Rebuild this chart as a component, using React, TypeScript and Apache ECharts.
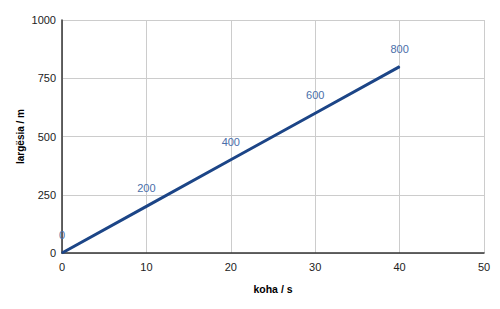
import React, { useEffect, useRef } from "react";
import * as echarts from "echarts";

const times = [0, 10, 20, 30, 40];
const distances = [0, 200, 400, 600, 800];
const xAxisTitle = "koha / s";
const yAxisTitle = "largësia / m";

export default function App() {
  const ref = useRef<HTMLDivElement>(null);
  useEffect(() => {
    if (!ref.current) return;
    const chart = echarts.init(ref.current, null, { renderer: "svg" });
    const font = "Liberation Sans, Arial, sans-serif";
    chart.setOption({
      animation: false,
      textStyle: { fontFamily: font },
      grid: { left: 54, right: 8, top: 12, bottom: 48, containLabel: false, outerBoundsMode: "none" },
      xAxis: {
        type: "value",
        min: 0,
        max: 50,
        interval: 10,
        name: xAxisTitle,
        nameLocation: "middle",
        nameGap: 30,
        nameTextStyle: { fontFamily: font, fontSize: 10.5, fontWeight: "bold", color: "#000" },
        axisLine: { show: true, onZero: false, lineStyle: { color: "#333", width: 1.5 } },
        axisTick: { show: false },
        axisLabel: { fontFamily: font, fontSize: 11, color: "#222", margin: 8 },
        splitLine: { show: true, lineStyle: { color: "#ccc", width: 1 } },
      },
      yAxis: {
        type: "value",
        min: 0,
        max: 1000,
        interval: 250,
        name: yAxisTitle,
        nameLocation: "middle",
        nameGap: 37,
        nameMoveOverlap: false,
        nameTextStyle: { fontFamily: font, fontSize: 10, fontWeight: "bold", color: "#000" },
        axisLine: { show: true, onZero: false, lineStyle: { color: "#333", width: 1.5 } },
        axisTick: { show: false },
        axisLabel: { fontFamily: font, fontSize: 11, color: "#222", margin: 6, formatter: (v: number) => String(v) },
        splitLine: { show: true, lineStyle: { color: "#ccc", width: 1 } },
      },
      series: [
        {
          type: "line",
          data: times.map((t, i) => [t, distances[i]]),
          showSymbol: true,
          symbol: "circle",
          symbolSize: 1,
          lineStyle: { color: "#1c4587", width: 3 },
          itemStyle: { color: "#1c4587" },
          label: {
            show: true,
            position: "top",
            distance: 12,
            fontFamily: font,
            fontSize: 11,
            color: "#4a6ea9",
            formatter: (p: any) => String(p.value[1]),
          },
        },
      ],
    });
    return () => chart.dispose();
  }, []);
  return <div ref={ref} style={{ width: 484, height: 293 }} />;
}
